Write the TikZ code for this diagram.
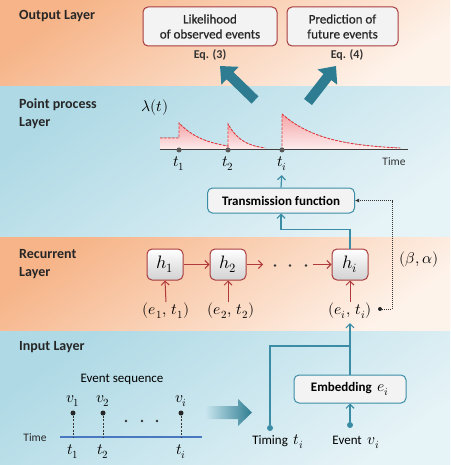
\documentclass[tikz,border=0pt]{standalone}
\usepackage{fontspec}
\usepackage{unicode-math}
\setmainfont{Carlito}
\newfontfamily\medfont{Carlito}[FakeBold=0.6]
\setmathfont{Latin Modern Math}[Scale=1.2]
\usetikzlibrary{arrows.meta,calc}
\definecolor{tealA}{HTML}{2E7C91}
\definecolor{boxred}{HTML}{A83C3E}
\definecolor{boxteal}{HTML}{3A8DA5}
\definecolor{arrred}{HTML}{B0393B}
\definecolor{orA}{HTML}{F6B488}
\definecolor{orB}{HTML}{FEF3EB}
\definecolor{blA}{HTML}{AED9E5}
\definecolor{blB}{HTML}{E6F3F7}
\definecolor{timeblue}{HTML}{4A78C0}
\definecolor{curvered}{HTML}{E8353B}
\definecolor{boxfill}{HTML}{F3F3F3}
\begin{document}
\begin{tikzpicture}[x=1pt,y=-1pt,
  every node/.style={font=\fontsize{13}{15}\selectfont, inner sep=1pt},
  layertitle/.style={font=\bfseries\fontsize{14}{18}\selectfont, anchor=west, align=left, text=black!85},
  outbox/.style={draw=boxred, line width=1pt, rounded corners=5pt, fill=boxfill, align=center, minimum height=39pt, text=black!85, font=\medfont\fontsize{13}{15}\selectfont},
  eqlabel/.style={font=\bfseries\fontsize{12}{14}\selectfont, text=black!80},
  bigarr/.style={draw=tealA, line width=10pt, -{Triangle[width=24pt,length=14pt]}},
  hbox/.style={draw=boxred, line width=1pt, rounded corners=5pt, minimum width=36pt, minimum height=31pt, top color=white, bottom color=black!18, font=\fontsize{15}{17}\selectfont},
  redarr/.style={draw=arrred, line width=1pt, -{Straight Barb[length=4pt,width=8pt]}},
  tealbox/.style={draw=boxteal, line width=1pt, rounded corners=5pt, fill=boxfill},
  tealarr/.style={draw=boxteal, line width=1.2pt, -{Straight Barb[length=4pt,width=8pt]}},
  tealline/.style={draw=boxteal, line width=1.2pt},
  tdot/.style={circle, fill=boxteal, inner sep=0pt, minimum size=6pt},
  ppdot/.style={circle, fill=black!65, inner sep=0pt, minimum size=5pt},
  evdot/.style={circle, fill=black!85, inner sep=0pt, minimum size=5pt},
  smalldot/.style={circle, fill=black!80, inner sep=0pt, minimum size=2.6pt},
  dashcurve/.style={draw=curvered, line width=0.9pt, dash pattern=on 2.5pt off 1.5pt},
  pinkfill/.style={top color=curvered!45!white, bottom color=curvered!8!white, draw=none},
  dotarr/.style={draw=black!80, line width=0.9pt, dash pattern=on 0.8pt off 1.2pt, -{Latex[length=4pt,width=4pt]}}
]
\useasboundingbox (0,0) rectangle (450,465);
% layer bands
\shade[top color=orA, bottom color=orB, shading angle=35] (0,0) rectangle (450,87);
\shade[top color=blA, bottom color=blB, shading angle=35] (0,87) rectangle (450,237);
\shade[top color=orA, bottom color=orB, shading angle=35] (0,237) rectangle (450,331);
\shade[top color=blA, bottom color=blB, shading angle=35] (0,331) rectangle (450,465);

% layer titles
\node[layertitle] (tout) at (18,16) {Output Layer};
\node[layertitle] (tpp) at (18,114) {Point process\\Layer};
\node[layertitle] (trec) at (18,264) {Recurrent\\Layer};
\node[layertitle] (tin) at (18,347) {Input Layer};

% output layer
\node[outbox, minimum width=134pt] (lik) at (210,26.5) {Likelihood\\of observed events};
\node[outbox, minimum width=111pt] (pred) at (342.5,26.5) {Prediction of\\future events};
\node[eqlabel] (eq3) at (210,55) {Eq. (3)};
\node[eqlabel] (eq4) at (347,55) {Eq. (4)};
\coordinate (a1s) at (255,100);
\coordinate (a1e) at (220,66);
\coordinate (a2s) at (308,102);
\coordinate (a2e) at (336,66);
\draw[bigarr] (a1s) -- (a1e);
\draw[bigarr] (a2s) -- (a2e);

% point process plot
\fill[pinkfill] (160,150) -- (160,138) -- (179,138) -- (179,123)
  -- plot[domain=179:228,samples=30] (\x,{150-27*exp(-(\x-179)/25.6)}) -- (228,150) -- cycle;
\fill[pinkfill] (228,150) -- (228,124)
  -- plot[domain=228:265,samples=30] (\x,{150-26*exp(-(\x-228)/14.4)}) -- (265,150) -- cycle;
\fill[pinkfill] (282,150) -- (282,114)
  -- plot[domain=282:400,samples=40] (\x,{150-36*exp(-(\x-282)/40.8)}) -- (400,150) -- cycle;
\draw[dashcurve] (160,138) -- (179,138) -- (179,123)
  -- plot[domain=179:228,samples=30] (\x,{150-27*exp(-(\x-179)/25.6)}) -- (228,150);
\draw[dashcurve] (228,150) -- (228,124)
  -- plot[domain=228:265,samples=30] (\x,{150-26*exp(-(\x-228)/14.4)});
\draw[dashcurve] (282,150) -- (282,114)
  -- plot[domain=282:400,samples=40] (\x,{150-36*exp(-(\x-282)/40.8)});
\coordinate (ax0) at (160,150);
\coordinate (ax1) at (408,150);
\draw[black!75, line width=1pt] (ax0) -- (ax1);
\node[ppdot] (p1) at (179,150) {};
\node[ppdot] (p2) at (228,150) {};
\node[ppdot] (pi) at (282,150) {};
\node (lt1) at (179,164) {$t_1$};
\node (lt2) at (228,164) {$t_2$};
\node (lti) at (282,164) {$t_i$};
\node[font=\fontsize{11.5}{13}\selectfont, text=black!80] (ltime) at (394,162) {Time};
\node (lam) at (155,108) {$\lambda(t)$};

% transmission
\node[tealbox, minimum width=147pt, minimum height=25pt, font=\bfseries\fontsize{13}{15}\selectfont] (trans) at (281,200.5) {Transmission function};
\draw[tealarr, shorten >=3pt] (trans.north) -- (lti.south);

% recurrent layer
\node[hbox] (h1) at (165,264.5) {$h_1$};
\node[hbox] (h2) at (228,264.5) {$h_2$};
\node[hbox] (hi) at (350,264.5) {$h_i$};
\coordinate (h2e) at (263,264.5);
\coordinate (his) at (313,264.5);
\draw[redarr] (h1) -- (h2);
\draw[redarr] (h2) -- (h2e);
\draw[redarr] (his) -- (hi);
\node[smalldot] (rd1) at (275,265.5) {};
\node[smalldot] (rd2) at (290,265.5) {};
\node[smalldot] (rd3) at (306,265.5) {};
\node (in1) at (166,311) {$(e_1,\,t_1)$};
\node (in2) at (231,311) {$(e_2,\,t_2)$};
\node (ini) at (350,311) {$(e_i,\,t_i)$};
\draw[redarr] (in1.north) -- (h1.south);
\draw[redarr] (in2.north -| h2.south) -- (h2.south);
\draw[redarr] (ini.north) -- (hi.south);
\draw[tealarr] (hi.north) -- ++(0,-19) -| (trans.south);
\node[evdot, minimum size=4pt] (bdot) at (380,309) {};
\coordinate (bcorner) at (392,309);
\draw[dotarr] (bdot) -- (bcorner) |- (trans.east);
\node (ba) at (419,260) {$(\beta,\alpha)$};

% input layer
\node[tealbox, minimum width=112pt, minimum height=28pt] (emb) at (350,389) {\textbf{Embedding}\ \ $e_i$};
\draw[tealarr, shorten >=3pt] (emb.north) -- (ini.south);
\coordinate (jn) at (350,346);
\node[tdot] (timdot) at (270,428) {};
\draw[tealline] (timdot) |- (jn);
\node[tdot] (evtdot) at (350,425) {};
\draw[tealarr] (evtdot) -- (emb.south);
\node (timl) at (278,442) {Timing\ \ $t_i$};
\node (evl) at (356,442) {Event\ \ $v_i$};

\node (evseq) at (122,379) {Event sequence};
\coordinate (tl0) at (60,437);
\coordinate (tl1) at (202,437);
\draw[timeblue, line width=1.3pt] (tl0) -- (tl1);
\node[font=\fontsize{11.5}{13}\selectfont, text=black!85] (tltime) at (35,438) {Time};
\node[evdot] (e1) at (73,413) {};
\node[evdot] (e2) at (103,413) {};
\node[evdot] (ei) at (181,413) {};
\draw[black!80, line width=0.9pt, dash pattern=on 2pt off 1.5pt] (e1) -- (e1 |- tl0);
\draw[black!80, line width=0.9pt, dash pattern=on 2pt off 1.5pt] (e2) -- (e2 |- tl0);
\draw[black!80, line width=0.9pt, dash pattern=on 2pt off 1.5pt] (ei) -- (ei |- tl0);
\node (v1) at (73,401) {$v_1$};
\node (v2) at (103,401) {$v_2$};
\node (vi) at (181,401) {$v_i$};
\node (s1) at (73,452) {$t_1$};
\node (s2) at (103,452) {$t_2$};
\node (si) at (181,452) {$t_i$};
\node[smalldot] (id1) at (126,421) {};
\node[smalldot] (id2) at (142,421) {};
\node[smalldot] (id3) at (157,421) {};
\shade[left color=blA!70!white, right color=tealA] (206,406) -- (238,406) -- (238,399) -- (252,412.5) -- (238,426) -- (238,419) -- (206,419) -- cycle;
\end{tikzpicture}
\end{document}
